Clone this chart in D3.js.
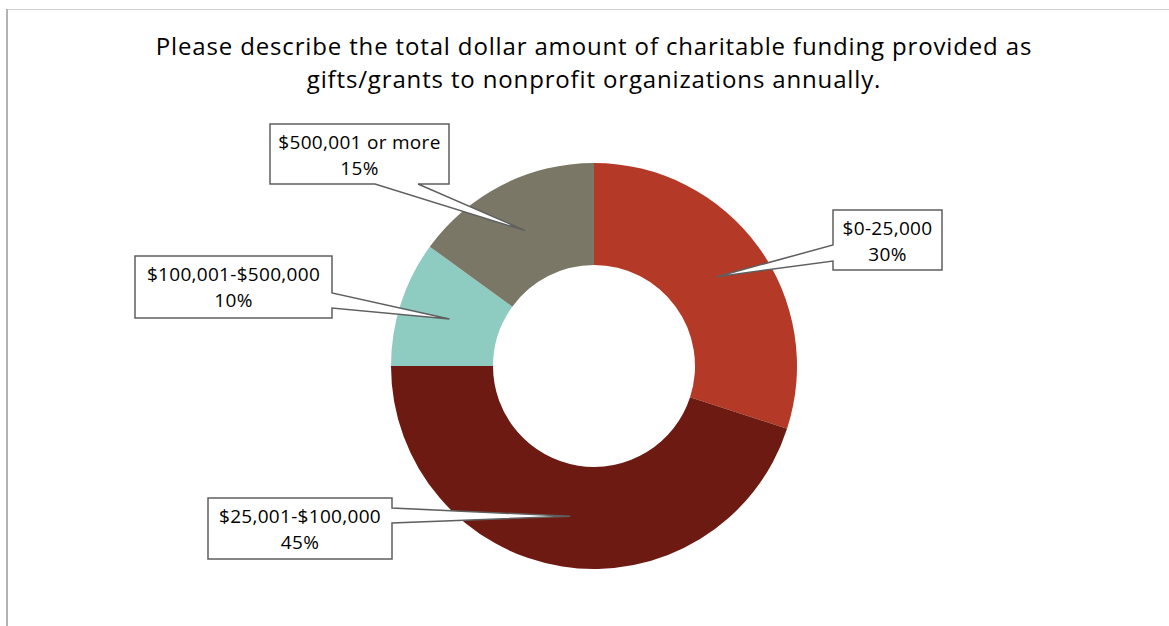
<!DOCTYPE html>
<html>
<head>
<meta charset="utf-8">
<script src="https://cdn.jsdelivr.net/npm/d3@7"></script>
<style>
  body { margin: 0; background: #fff; }
  svg { display: block; }
  text { font-family: "Open Sans", "Liberation Sans", sans-serif; fill: #000; }
</style>
</head>
<body>
<svg id="chart" width="1169" height="626"></svg>
<script>
// data
const categories = ['$0-25,000', '$25,001-$100,000', '$100,001-$500,000', '$500,001 or more'];
const shares = [30, 45, 10, 15];
const colors = ['#b43a27', '#6d1a12', '#8ecbc0', '#7a7767'];
const titleLines = [
  'Please describe the total dollar amount of charitable funding provided as',
  'gifts/grants to nonprofit organizations annually.'
];

// layout of the callout boxes (x, y, w, h, side the pointer leaves from, base along that side)
const callouts = [
  {x: 833, y: 210, w: 109, h: 60, side: 'left', b0: 35, b1: 51},
  {x: 208, y: 498, w: 184, h: 61, side: 'right', b0: 10, b1: 25},
  {x: 135, y: 256, w: 197, h: 62, side: 'right', b0: 37, b1: 52},
  {x: 270, y: 124, w: 179, h: 60, side: 'bottom', b0: 105, b1: 148}
];

const W = 1169, H = 626;
const cx = 594, cy = 366, rOut = 203, rIn = 101;

const svg = d3.select('#chart');

// frame of the chart area
svg.append('line').attr('x1', 7).attr('x2', W).attr('y1', 9.5).attr('y2', 9.5)
  .attr('stroke', '#d0d0d0').attr('stroke-width', 1);
svg.append('line').attr('x1', 7).attr('x2', 7).attr('y1', 9).attr('y2', H)
  .attr('stroke', '#b3b3b3').attr('stroke-width', 2);

// title
svg.append('g').selectAll('text')
  .data(titleLines)
  .join('text')
    .attr('x', cx)
    .attr('y', (d, i) => 55 + i * 33)
    .attr('text-anchor', 'middle')
    .attr('font-size', 24)
    .attr('letter-spacing', 0.85)
    .text(d => d);

// donut
const pie = d3.pie().sort(null).value(d => d);
const arcs = pie(shares);
const arc = d3.arc().innerRadius(rIn).outerRadius(rOut);

const g = svg.append('g').attr('transform', `translate(${cx},${cy})`);
g.selectAll('path')
  .data(arcs)
  .join('path')
    .attr('d', arc)
    .attr('fill', (d, i) => colors[i]);

// callouts: box with a wedge pointing at the slice centroid
function calloutPath(c, tip) {
  const x0 = c.x, y0 = c.y, x1 = c.x + c.w, y1 = c.y + c.h;
  const p = d3.path();
  p.moveTo(x0, y0);
  p.lineTo(x1, y0);
  if (c.side === 'right') {
    p.lineTo(x1, y0 + c.b0); p.lineTo(tip[0], tip[1]); p.lineTo(x1, y0 + c.b1);
  }
  p.lineTo(x1, y1);
  if (c.side === 'bottom') {
    p.lineTo(x0 + c.b1, y1); p.lineTo(tip[0], tip[1]); p.lineTo(x0 + c.b0, y1);
  }
  p.lineTo(x0, y1);
  if (c.side === 'left') {
    p.lineTo(x0, y0 + c.b1); p.lineTo(tip[0], tip[1]); p.lineTo(x0, y0 + c.b0);
  }
  p.closePath();
  return p.toString();
}

const lab = svg.append('g');
arcs.forEach((a, i) => {
  const c = callouts[i];
  const cen = arc.centroid(a);
  const tip = [cx + cen[0], cy + cen[1]];
  lab.append('path')
    .attr('d', calloutPath(c, tip))
    .attr('fill', '#fff')
    .attr('stroke', '#5f5f5f')
    .attr('stroke-width', 1.5)
    .attr('stroke-linejoin', 'miter');
  const t = lab.append('text')
    .attr('text-anchor', 'middle')
    .attr('font-size', 19)
    .attr('letter-spacing', 0.3);
  t.append('tspan').attr('x', c.x + c.w / 2).attr('y', c.y + 25).text(categories[i]);
  t.append('tspan').attr('x', c.x + c.w / 2).attr('y', c.y + 51).text(d3.format('.0%')(shares[i] / 100));
});
</script>
</body>
</html>
